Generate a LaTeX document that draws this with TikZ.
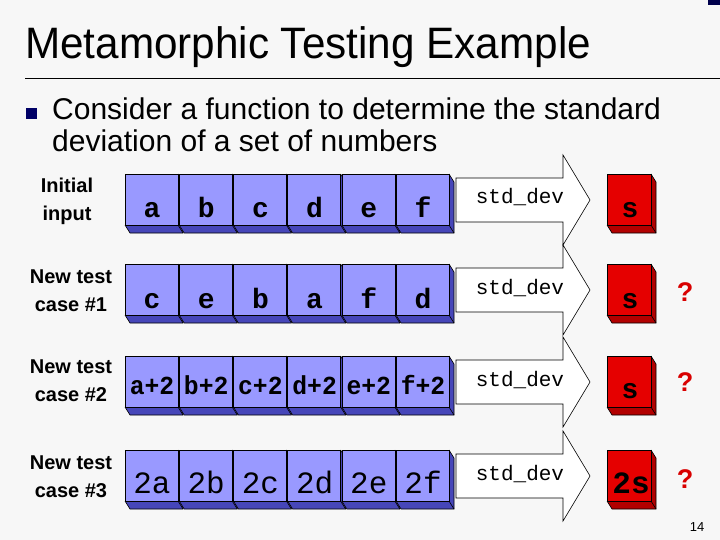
\documentclass[tikz,border=0pt]{standalone}
\usepackage{fontspec}
\setmainfont{Liberation Sans}
\setmonofont{Liberation Mono}
\begin{document}
\begin{tikzpicture}[x=1pt,y=-1pt,
  lbl/.style={font=\bfseries\fontsize{20}{28}\selectfont,align=center,inner sep=0pt},
  q/.style={text=red!85!black,font=\bfseries\fontsize{27}{27}\selectfont,inner sep=0pt,anchor=base},
  cell/.style={font=\ttfamily\bfseries\fontsize{28}{28}\selectfont,inner sep=0pt,anchor=base}]
\fill[gray!6] (0,0) rectangle (720,540);
\useasboundingbox (0,0) rectangle (720,540);
\fill[black!70!blue] (708,0) rectangle (720,5);
\node[anchor=west,inner sep=0pt,font=\fontsize{44}{44}\selectfont,xscale=0.96] (title) at (25,47) {Metamorphic Testing Example};
\draw[line width=0.8pt] (25,78) -- (720,78);
\fill[blue!40!black] (26,108) rectangle (37,119);
\node[anchor=north west,align=left,inner sep=0pt,font=\fontsize{30}{32}\selectfont] (bul) at (52,98) {Consider a function to determine the standard\\deviation of a set of numbers};
\newcommand{\cube}[6]{% x,y,w,h,fill,dark
  \fill[#6] (#1,#2+#4) -- (#1+5,#2+#4+8) -- (#1+#3+5,#2+#4+8) -- (#1+#3+5,#2+8) -- (#1+#3,#2) -- (#1+#3,#2+#4) -- cycle;
  \draw[line width=0.6pt] (#1,#2+#4) -- (#1+5,#2+#4+8) -- (#1+#3+5,#2+#4+8) -- (#1+#3+5,#2+8) -- (#1+#3,#2);
  \draw[line width=0.6pt] (#1+#3,#2+#4) -- (#1+#3+5,#2+#4+8);
  \fill[#5,draw=black,line width=0.6pt] (#1,#2) rectangle (#1+#3,#2+#4);}
\newcommand{\arr}[1]{%
  \fill[white,draw=black,line width=0.6pt] (456,#1+4) -- (563,#1+4) -- (563,#1-19) -- (590,#1+26) -- (563,#1+71) -- (563,#1+48) -- (456,#1+48) -- cycle;}
\foreach \ty/\r in {174/1,264/2,356/3,450/4}{
  \foreach \i in {0,...,5}{\cube{125+\i*54.2}{\ty}{53}{51}{blue!40!white}{blue!45!gray}}
  \arr{\ty}
  \node[cell,font=\ttfamily\fontsize{21}{21}\selectfont] (f\r) at (520,\ty+30) {std\_dev};
  \cube{607}{\ty}{44}{51}{red!90!black}{red!70!black}
}
\node[lbl] (l1) at (67,201) {Initial\\input};
\node[lbl] (l2) at (71,291) {New test\\case \#1};
\node[lbl] (l3) at (71,381) {New test\\case \#2};
\node[lbl] (l4) at (71,477) {New test\\case \#3};
\foreach \t [count=\i from 0] in {a,b,c,d,e,f}{\node[cell] (a\i) at (152+\i*54.2,218) {\t};}
\foreach \t [count=\i from 0] in {c,e,b,a,f,d}{\node[cell] (b\i) at (152+\i*54.2,308) {\t};}
\foreach \t [count=\i from 0] in {a,b,c,d,e,f}{\node[cell,font=\ttfamily\bfseries\fontsize{26}{26}\selectfont,xscale=0.95] (c\i) at (152+\i*54.2,394) {\t+2};}
\foreach \t [count=\i from 0] in {a,b,c,d,e,f}{\node[cell,font=\ttfamily\fontsize{31}{31}\selectfont] (d\i) at (152+\i*54.2,493) {2\t};}
\node[cell] (s1) at (630,218) {s};
\node[cell] (s2) at (630,308) {s};
\node[cell] (s3) at (630,398) {s};
\node[cell,font=\ttfamily\bfseries\fontsize{31}{31}\selectfont] (s4) at (631,493) {2s};
\node[q] (q2) at (685,301) {?};
\node[q] (q3) at (685,391) {?};
\node[q] (q4) at (685,488) {?};
\node[font=\fontsize{13}{13}\selectfont] (pg) at (697,527) {14};
\end{tikzpicture}
\end{document}
